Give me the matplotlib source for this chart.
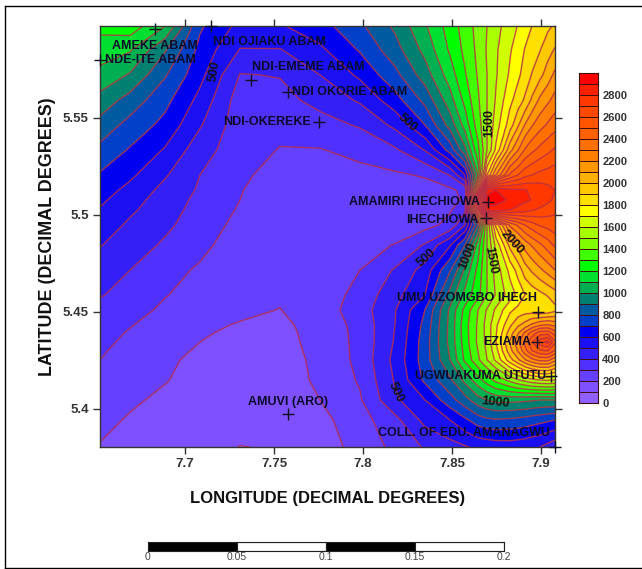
# -*- coding: utf-8 -*-
import numpy as np
import matplotlib; matplotlib.use('Agg')
import matplotlib.pyplot as plt
from matplotlib.colors import ListedColormap, BoundaryNorm
from matplotlib.lines import Line2D

plt.rcParams['font.family']=['Liberation Sans','DejaVu Sans']

# grid nodes (denser around the two highs)
lon=[7.6522,7.6691,7.6888,7.7084,7.7309,7.7534,7.7758,7.7983,7.8180,7.8348,7.8489,7.8573,7.8646,7.8697,7.8747,7.8826,7.8871,7.8910,7.8949,7.8994,7.9039,7.9079]
lat=[5.5974,5.5851,5.5722,5.5593,5.5464,5.5335,5.5206,5.5129,5.5077,5.5026,5.4948,5.4845,5.4716,5.4588,5.4510,5.4433,5.4392,5.4345,5.4299,5.4253,5.4149,5.4046,5.3943,5.3804]
r01=[1230,1260,1100,715,570,590,660,780,920,1085,1245,1345,1435,1500,1565,1655,1705,1755,1800,1840,1880,1915]
r02=[1150,1110,910,670,495,495,580,710,860,1030,1215,1325,1425,1510,1585,1690,1750,1805,1850,1895,1960,2010]
r03=[1070,990,810,630,395,405,500,620,770,950,1150,1290,1410,1500,1590,1715,1780,1840,1905,1970,2050,2125]
r04=[965,860,730,570,350,370,430,515,660,830,1060,1230,1385,1500,1610,1775,1845,1915,2015,2120,2180,2235]
r05=[863,765,670,510,340,330,365,410,525,700,940,1140,1350,1500,1650,1850,1985,2105,2190,2260,2315,2360]
r06=[773,690,590,440,345,295,295,330,385,505,740,975,1270,1500,1720,2065,2195,2310,2375,2430,2475,2515]
r07=[690,620,510,400,320,260,260,270,285,310,405,600,1100,1800,2100,2420,2500,2570,2600,2630,2645,2660]
r08=[650,570,470,388,305,250,245,245,250,260,280,330,1500,2800,2900,2820,2812,2805,2785,2760,2730,2700]
r09=[620,540,452,375,300,240,235,235,240,245,260,320,2200,3000,2950,2880,2850,2820,2795,2770,2725,2680]
r10=[592,517,440,365,290,235,228,230,240,260,290,380,1700,2850,2850,2800,2770,2740,2710,2680,2650,2620]
r11=[555,482,420,350,272,225,215,220,235,265,330,500,900,1400,1820,2220,2315,2400,2455,2510,2535,2560]
r12=[505,450,385,330,240,215,225,260,305,410,590,800,1150,1400,1630,1930,2035,2140,2210,2280,2350,2420]
r13=[455,400,340,285,235,215,215,300,410,540,790,1020,1230,1400,1540,1730,1840,1950,2015,2080,2140,2200]
r14=[405,375,305,260,225,210,240,335,465,600,940,1130,1270,1400,1510,1650,1725,1800,1835,1870,1910,1950]
r15=[380,340,280,245,215,198,250,350,495,700,1020,1230,1400,1510,1620,1780,1830,1850,1840,1800,1820,1870]
r16=[345,305,260,215,195,178,240,330,500,730,1030,1260,1415,1540,1680,1880,1980,2040,2120,2190,2210,2170]
r17=[333,292,247,207,187,171,237,327,505,740,1030,1255,1418,1535,1690,1950,2090,2220,2340,2450,2460,2350]
r18=[322,280,235,200,180,165,235,325,510,750,1030,1250,1420,1530,1700,2010,2170,2330,2490,2660,2730,2520]
r19=[311,267,225,190,170,160,230,325,520,750,1015,1235,1400,1515,1660,1960,2110,2260,2390,2480,2500,2380]
r20=[300,255,215,180,160,155,225,325,530,750,1000,1220,1380,1500,1620,1860,1980,2090,2170,2230,2230,2130]
r21=[275,235,205,165,140,140,222,310,510,720,880,1030,1160,1250,1330,1430,1490,1530,1570,1600,1610,1600]
r22=[250,215,180,150,125,125,200,290,480,600,760,860,960,1000,1030,1030,1025,1020,1010,1000,1000,1000]
r23=[227,190,160,130,118,122,170,260,370,530,600,680,750,780,790,780,770,760,745,730,715,700]
r24=[194,165,140,115,99,103,165,225,330,410,460,490,520,530,540,545,538,530,515,500,465,430]
rows=[r01,r02,r03,r04,r05,r06,r07,r08,r09,r10,r11,r12,r13,r14,r15,r16,r17,r18,r19,r20,r21,r22,r23,r24]

levels=list(range(0,3100,100))
band_colors=['#9060ff','#7f50ff','#6640ff','#4f30fc','#3420f6','#1a10f2','#0000f0','#0040c8','#005aa0','#008070',
             '#00b050','#00e030','#00ff00','#40ff00','#80ff00','#a8ff00','#d0ff00','#ffff00','#ffe000','#ffc800',
             '#ffb000','#ff9800','#ff8000','#ff7000','#ff6000','#ff5400','#ff4800','#ff3800','#ff2000','#ff0000']
cbar_ticks=list(range(0,3000,200))

xticks=[7.7,7.75,7.8,7.85,7.9]
yticks=[5.4,5.45,5.5,5.55]

# name, lon, lat, label offset (px, y down)
stations=[('AMEKE ABAM',7.6831,5.5959,0,17),
          ('NDE-ITE ABAM',7.6522,5.5799,50,0),
          ('NDI OJIAKU ABAM',7.7146,5.5974,58,16),
          ('NDI-EMEME ABAM',7.7371,5.5696,57,-13),
          ('NDI OKORIE ABAM',7.7579,5.5634,62,0),
          ('NDI-OKEREKE',7.7753,5.5479,-52,0),
          ('AMAMIRI IHECHIOWA',7.8702,5.5067,-73,0),
          ('IHECHIOWA',7.8691,5.4985,-44,2),
          ('UMU UZOMGBO IHECH',7.8983,5.4500,-71,-14),
          ('EZIAMA',7.8978,5.4345,-30,0),
          ('UGWUAKUMA UTUTU',7.9056,5.4170,-70,0),
          ('COLL. OF EDU. AMANAGWU',7.9079,5.3804,-91,-14),
          ('AMUVI (ARO)',7.7579,5.3974,0,-12)]
# text, lon, lat, rotation
line_labels=[('500',7.7163,5.5743,80),('500',7.8247,5.5473,-42),('1500',7.8708,5.5473,90),
             ('2000',7.8837,5.4860,-48),('1500',7.8719,5.4768,-80),('1000',7.8590,5.4789,68),
             ('500',7.8354,5.4778,42),('500',7.8185,5.4087,-65),('1000',7.8747,5.4035,-6)]

W,H=642,569
fig=plt.figure(figsize=(W/100,H/100),dpi=100)
def px_axes(x0,y0,x1,y1):
    return fig.add_axes([x0/W,1-y1/H,(x1-x0)/W,(y1-y0)/H])

cmap=ListedColormap(band_colors); norm=BoundaryNorm(levels,cmap.N)

ax=px_axes(100,26,555,447)
Z=np.array(rows,dtype=float)
ax.contourf(lon,lat,Z,levels=levels,cmap=cmap,norm=norm)
ax.contour(lon,lat,Z,levels=levels[1:],colors='#b83048',linewidths=1.0,alpha=0.85)
ax.set_xlim(lon[0],lon[-1]); ax.set_ylim(min(lat),max(lat))
ax.set_xticks(xticks); ax.set_xticklabels(['7.7','7.75','7.8','7.85','7.9'])
ax.set_yticks(yticks); ax.set_yticklabels(['5.4','5.45','5.5','5.55'],rotation=0)
ax.tick_params(direction='out',top=True,right=True,length=5,width=1,color='#333333',
               labelsize=9.5,labelcolor='#333333',pad=3)
for t in ax.get_xticklabels()+ax.get_yticklabels(): t.set_fontweight('bold')
for s in ax.spines.values(): s.set_linewidth(1.0); s.set_color('#333333')
ax.set_xlabel('LONGITUDE (DECIMAL DEGREES)',fontsize=12,fontweight='bold',color='#111111',labelpad=15)
ax.set_ylabel('LATITUDE (DECIMAL DEGREES)',fontsize=12.9,fontweight='bold',color='#111111',labelpad=5)

for name,x,y,dx,dy in stations:
    ax.plot([x],[y],marker='+',color='#111122',ms=8,mew=1,clip_on=False,zorder=5)
    ax.annotate(name,xy=(x,y),xytext=(dx,-dy),textcoords='offset pixels',ha='center',va='center',
                fontsize=9,fontweight='bold',color='#0b0b2a',zorder=6,annotation_clip=False)
for txt,x,y,rot in line_labels:
    ax.text(x,y,txt,rotation=rot,ha='center',va='center',rotation_mode='anchor',
            fontsize=9,fontweight='bold',color='#111111',zorder=6)

# colour scale
cax=px_axes(579,73,598,403)
cax.pcolormesh([0,1],levels,np.array(levels[:-1]).reshape(-1,1),cmap=cmap,norm=norm,edgecolors='#401010',linewidth=0.6)
cax.set_xticks([]); cax.yaxis.tick_right()
cax.set_ylim(0,3000)
cax.set_yticks(cbar_ticks)
cax.tick_params(length=0,labelsize=8,labelcolor='#333333',pad=3)
for t in cax.get_yticklabels(): t.set_fontweight('bold')
for s in cax.spines.values(): s.set_linewidth(0.8); s.set_color('#401010')

# scale bar
scale_edges=[0,0.05,0.1,0.15,0.2]
scale_fill=['black','white','black','white']
bax=px_axes(147.5,542,504,551)
bax.bar(scale_edges[:-1],[1]*4,width=0.05,align='edge',color=scale_fill,edgecolor='#222222',linewidth=0.8)
bax.set_xlim(0,0.2); bax.set_ylim(0,1); bax.set_yticks([])
bax.set_xticks(scale_edges); bax.set_xticklabels(['0','0.05','0.1','0.15','0.2'])
bax.tick_params(length=0,labelsize=7.5,labelcolor='#444444',pad=1)
for s in bax.spines.values(): s.set_linewidth(0.8); s.set_color('#222222')

# page frame: left, top and bottom edges only
for xs,ys in (([5,5],[6,568]),([5,642],[6,6]),([5,642],[568,568])):
    fig.add_artist(Line2D([v/W for v in xs],[1-v/H for v in ys],color='black',lw=1))

fig.savefig('out.png',dpi=100)
